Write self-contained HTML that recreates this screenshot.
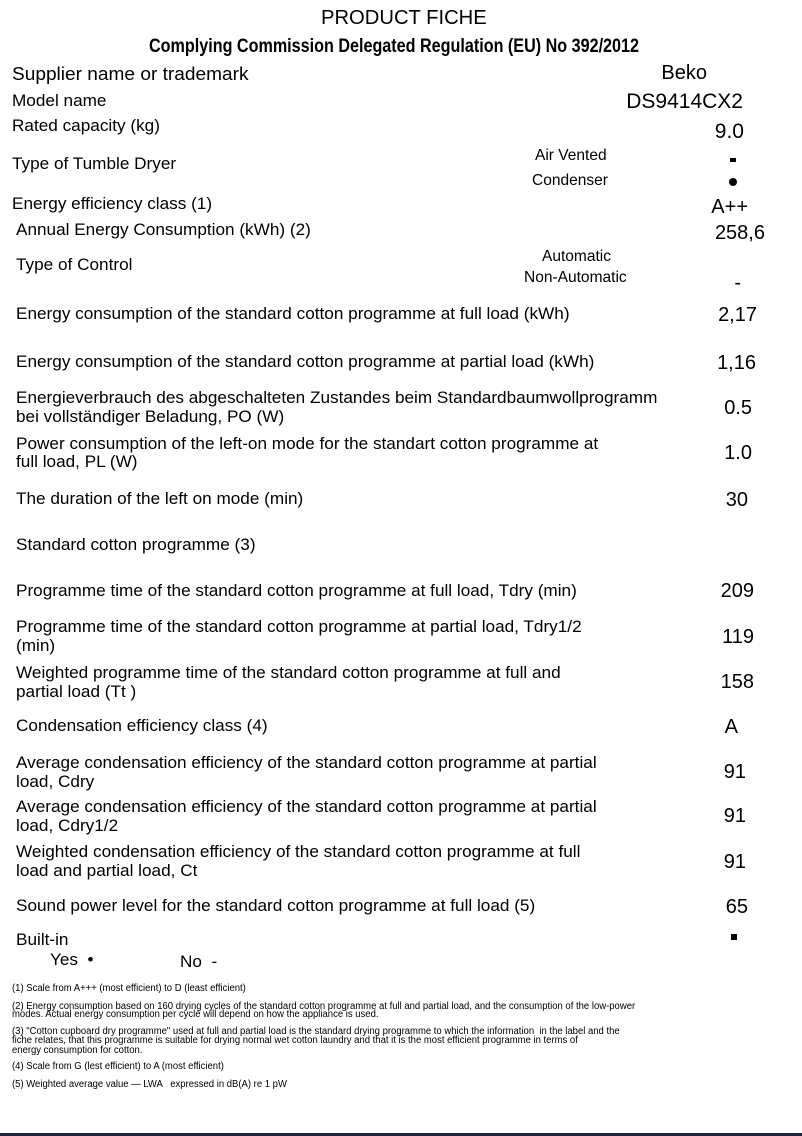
<!DOCTYPE html>
<html><head><meta charset="utf-8"><style>
html,body{margin:0;padding:0;background:#fff;}
body{width:802px;height:1136px;position:relative;overflow:hidden;font-family:"Liberation Sans",Arial,sans-serif;color:#000;}
.t{position:absolute;white-space:nowrap;line-height:1;font-size:17px;transform-origin:0 0;transform:scaleX(1.01);}
.f{font-size:10px;transform:scaleX(0.95);line-height:1;}
.v{position:absolute;white-space:nowrap;line-height:1;font-size:20px;text-align:right;width:200px;}
.s{font-size:16px;transform:scaleX(0.97);}
</style></head><body>
<div class="t" style="left:321px;top:8px;font-size:20px;transform:scaleX(1.01)">PRODUCT FICHE</div>
<div class="t" style="left:149px;top:37px;font-size:19px;font-weight:bold;transform:scaleX(0.85)">Complying Commission Delegated Regulation (EU) No 392/2012</div>
<div class="t" style="left:12px;top:65px;font-size:18px;transform:scaleX(1.06)">Supplier name or trademark</div>
<div class="v" style="left:507px;top:63px">Beko</div>
<div class="t" style="left:12px;top:92px">Model name</div>
<div class="v" style="left:543px;top:91px;font-size:21px">DS9414CX2</div>
<div class="t" style="left:12px;top:117px">Rated capacity (kg)</div>
<div class="v" style="left:544px;top:121px;font-size:21px">9.0</div>
<div class="t" style="left:12px;top:155px">Type of Tumble Dryer</div>
<div class="t s" style="left:535px;top:148px">Air Vented</div>
<div style="position:absolute;left:730px;top:158px;width:6px;height:4px;background:#000"></div>
<div class="t s" style="left:532px;top:173px">Condenser</div>
<div style="position:absolute;left:729px;top:178px;width:8px;height:8px;border-radius:50%;background:#000"></div>
<div class="t" style="left:12px;top:195px">Energy efficiency class (1)</div>
<div class="v" style="left:548px;top:197px">A++</div>
<div class="t" style="left:16px;top:221px">Annual Energy Consumption (kWh) (2)</div>
<div class="v" style="left:565px;top:223px">258,6</div>
<div class="t" style="left:16px;top:256px">Type of Control</div>
<div class="t s" style="left:542px;top:249px">Automatic</div>
<div class="t s" style="left:524px;top:270px">Non-Automatic</div>
<div class="v" style="left:541px;top:273px">-</div>
<div class="t" style="left:16px;top:305px">Energy consumption of the standard cotton programme at full load (kWh)</div>
<div class="v" style="left:557px;top:305px">2,17</div>
<div class="t" style="left:16px;top:353px">Energy consumption of the standard cotton programme at partial load (kWh)</div>
<div class="v" style="left:556px;top:353px">1,16</div>
<div class="t" style="left:16px;top:389px">Energieverbrauch des abgeschalteten Zustandes beim Standardbaumwollprogramm</div>
<div class="t" style="left:16px;top:408px">bei vollständiger Beladung, PO (W)</div>
<div class="v" style="left:552px;top:398px">0.5</div>
<div class="t" style="left:16px;top:435px">Power consumption of the left-on mode for the standart cotton programme at</div>
<div class="t" style="left:16px;top:453px">full load, PL (W)</div>
<div class="v" style="left:552px;top:443px">1.0</div>
<div class="t" style="left:16px;top:490px">The duration of the left on mode (min)</div>
<div class="v" style="left:548px;top:490px">30</div>
<div class="t" style="left:16px;top:536px">Standard cotton programme (3)</div>
<div class="t" style="left:16px;top:582px">Programme time of the standard cotton programme at full load, Tdry (min)</div>
<div class="v" style="left:554px;top:581px">209</div>
<div class="t" style="left:16px;top:618px">Programme time of the standard cotton programme at partial load, Tdry1/2</div>
<div class="t" style="left:16px;top:637px">(min)</div>
<div class="v" style="left:554px;top:627px">119</div>
<div class="t" style="left:16px;top:664px">Weighted programme time of the standard cotton programme at full and</div>
<div class="t" style="left:16px;top:683px">partial load (Tt )</div>
<div class="v" style="left:554px;top:672px">158</div>
<div class="t" style="left:16px;top:717px">Condensation efficiency class (4)</div>
<div class="v" style="left:538px;top:717px">A</div>
<div class="t" style="left:16px;top:754px">Average condensation efficiency of the standard cotton programme at partial</div>
<div class="t" style="left:16px;top:773px">load, Cdry</div>
<div class="v" style="left:546px;top:762px">91</div>
<div class="t" style="left:16px;top:798px">Average condensation efficiency of the standard cotton programme at partial</div>
<div class="t" style="left:16px;top:817px">load, Cdry1/2</div>
<div class="v" style="left:546px;top:806px">91</div>
<div class="t" style="left:16px;top:843px">Weighted condensation efficiency of the standard cotton programme at full</div>
<div class="t" style="left:16px;top:862px">load and partial load, Ct</div>
<div class="v" style="left:546px;top:852px">91</div>
<div class="t" style="left:16px;top:897px">Sound power level for the standard cotton programme at full load (5)</div>
<div class="v" style="left:548px;top:897px">65</div>
<div class="t" style="left:16px;top:931px">Built-in</div>
<div style="position:absolute;left:731px;top:934px;width:6px;height:6px;background:#000"></div>
<div class="t" style="left:50px;top:951px">Yes &nbsp;•</div>
<div class="t" style="left:180px;top:953px">No &nbsp;-</div>
<div class="t f" style="left:12px;top:984px">(1) Scale from A+++ (most efficient) to D (least efficient)</div>
<div class="t f" style="left:12px;top:1002px">(2) Energy consumption based on 160 drying cycles of the standard cotton programme at full and partial load, and the consumption of the low-power</div>
<div class="t f" style="left:12px;top:1010px">modes. Actual energy consumption per cycle will depend on how the appliance is used.</div>
<div class="t f" style="left:12px;top:1027px">(3) "Cotton cupboard dry programme" used at full and partial load is the standard drying programme to which the information &nbsp;in the label and the</div>
<div class="t f" style="left:12px;top:1036px">fiche relates, that this programme is suitable for drying normal wet cotton laundry and that it is the most efficient programme in terms of</div>
<div class="t f" style="left:12px;top:1046px">energy consumption for cotton.</div>
<div class="t f" style="left:12px;top:1062px">(4) Scale from G (lest efficient) to A (most efficient)</div>
<div class="t f" style="left:12px;top:1080px">(5) Weighted average value — LWA &nbsp;&nbsp;expressed in dB(A) re 1 pW</div>
<div style="position:absolute;left:0;top:1133px;width:802px;height:3px;background:#1a2238"></div>
</body></html>
